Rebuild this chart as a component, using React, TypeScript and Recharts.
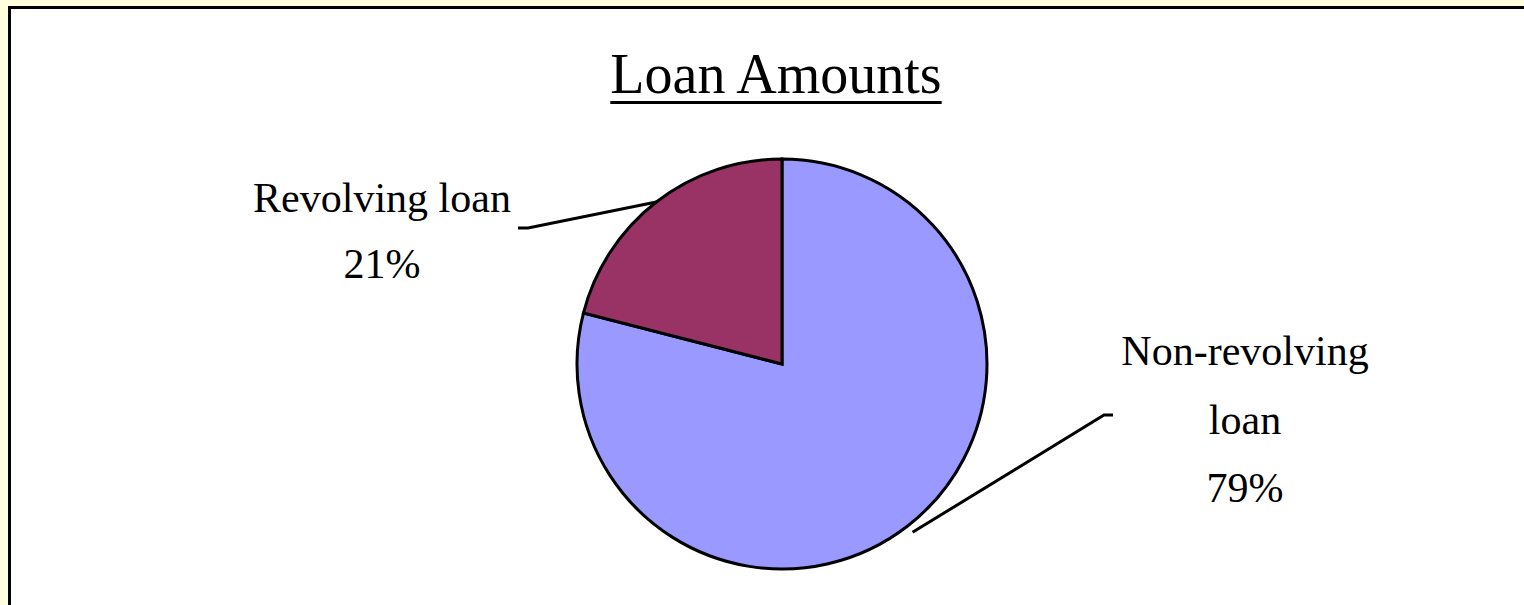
import React from 'react';
import { PieChart, Pie, Cell } from 'recharts';

const categories = ['Non-revolving loan', 'Revolving loan'];
const values = [79, 21];
const labelLines = [['Non-revolving', 'loan'], ['Revolving loan']];
const colors = ['#9999FF', '#993366'];

const chartData = categories.map((name, i) => ({ name, value: values[i] }));

const RADIAN = Math.PI / 180;
const FONT = '"Liberation Serif", "Times New Roman", serif';

// leader line / text placement relative to the pie centre
const labelLayout = [
  { startR: 8, elbow: [322, 51], end: [331, 51], textX: 463, firstBaseline: 1, lineGap: 68.5 },
  { startR: 0, elbow: [-254, -136], end: [-264, -136], textX: -400, firstBaseline: -152, lineGap: 66 },
];

const renderLabel = (props: any) => {
  const { cx, cy, midAngle, outerRadius, index, percent } = props;
  const lay = labelLayout[index];
  const r = outerRadius + lay.startR;
  const sx = cx + r * Math.cos(-midAngle * RADIAN);
  const sy = cy + r * Math.sin(-midAngle * RADIAN);
  const lines = [...labelLines[index], `${Math.round(percent * 100)}%`];
  return (
    <g key={`lbl-${index}`}>
      <polyline
        points={`${sx},${sy} ${cx + lay.elbow[0]},${cy + lay.elbow[1]} ${cx + lay.end[0]},${cy + lay.end[1]}`}
        fill="none"
        stroke="#000"
        strokeWidth={3}
      />
      <text textAnchor="middle" fontFamily={FONT} fontSize={42} fill="#000">
        {lines.map((t, i) => (
          <tspan key={i} x={cx + lay.textX} y={cy + lay.firstBaseline + i * lay.lineGap}>
            {t}
          </tspan>
        ))}
      </text>
    </g>
  );
};

export default function App() {
  return (
    <div style={{ position: 'relative', width: 1524, height: 605, background: '#FFFFDD', overflow: 'hidden' }}>
      <style>{`body{margin:0;}`}</style>
      <div
        style={{
          position: 'absolute',
          left: 8,
          top: 6,
          width: 1540,
          height: 620,
          border: '3px solid #000',
          background: '#fff',
        }}
      />
      <div
        style={{
          position: 'absolute',
          left: 0,
          top: 46,
          width: 1552,
          textAlign: 'center',
          fontFamily: FONT,
          fontSize: 56,
          lineHeight: '56px',
          color: '#000',
          textDecoration: 'underline',
          textDecorationThickness: '3px',
          textUnderlineOffset: '8px',
        }}
      >
        Loan Amounts
      </div>
      <div style={{ position: 'absolute', left: 0, top: 0 }}>
        <PieChart width={1524} height={605} margin={{ top: 0, right: 0, bottom: 0, left: 0 }}>
          <Pie
            data={chartData}
            dataKey="value"
            nameKey="name"
            cx={782}
            cy={364}
            outerRadius={205}
            startAngle={90}
            endAngle={-270}
            stroke="#000"
            strokeWidth={3}
            label={renderLabel}
            labelLine={false}
            isAnimationActive={false}
          >
            {chartData.map((d, i) => (
              <Cell key={d.name} fill={colors[i]} />
            ))}
          </Pie>
        </PieChart>
      </div>
    </div>
  );
}
